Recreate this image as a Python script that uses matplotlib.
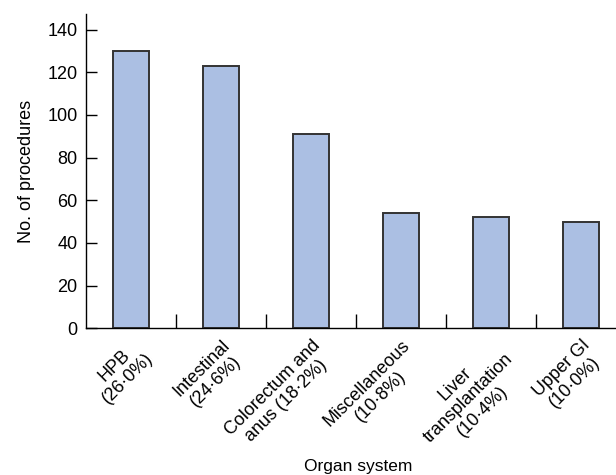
import numpy as np
import matplotlib
matplotlib.use("Agg")
import matplotlib.pyplot as plt

plt.rcParams['font.family'] = ['Liberation Sans', 'DejaVu Sans']

# dados
categorias = ["HPB\n(26·0%)", "Intestinal\n(24·6%)", "Colorectum and\nanus (18·2%)",
              "Miscellaneous\n(10·8%)", "Liver\ntransplantation\n(10·4%)", "Upper GI\n(10·0%)"]
procedimentos = [130, 123, 91, 54, 52, 50]
y_ticks = [0, 20, 40, 60, 80, 100, 120, 140]

fig = plt.figure(figsize=(6.16, 4.75), dpi=100)
ax = fig.add_axes([86 / 616, 1 - 328.3 / 475, 1 - 86 / 616, (328.3 - 14) / 475])

x = np.arange(len(categorias))
ax.bar(x, procedimentos, width=0.4, color='#abbfe3', edgecolor='#333333', linewidth=1.4)

ax.set_xlim(-0.503, 5.386)
ax.set_ylim(0, 147.3)

# eixos
for lado in ['top', 'right']:
    ax.spines[lado].set_visible(False)
ax.spines['left'].set_linewidth(1.0)
ax.spines['bottom'].set_linewidth(1.0)

ax.set_yticks(y_ticks)
ax.tick_params(axis='y', direction='in', length=8, width=1, labelsize=13, pad=6)

ax.set_xticks(x)
ax.set_xticklabels(categorias, rotation=45, ha='right', va='top',
                   rotation_mode='anchor', multialignment='center', fontsize=13,
                   linespacing=1.15)
ax.tick_params(axis='x', which='major', length=0, pad=6)
ax.set_xticks(x[:-1] + 0.5, minor=True)
ax.tick_params(axis='x', which='minor', direction='in', length=10, width=1)

ax.set_ylabel("No. of procedures", fontsize=13)
ax.yaxis.set_label_coords(-0.096, 0.5)
ax.set_xlabel("Organ system", fontsize=12.5)
ax.xaxis.set_label_coords(0.513, -0.416)

fig.savefig("out.png", dpi=100)
